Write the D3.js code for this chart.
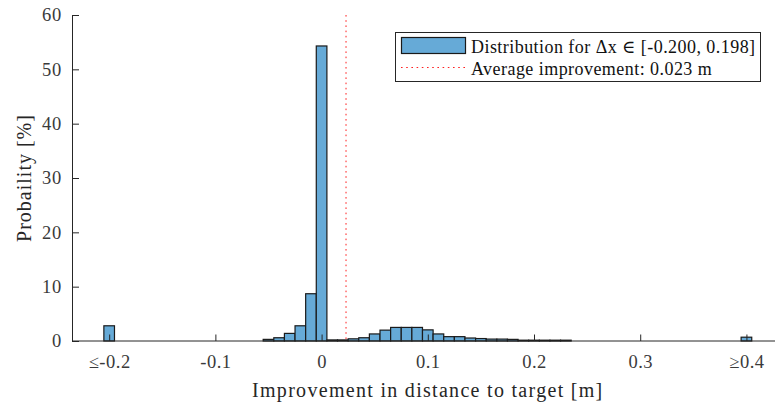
<!DOCTYPE html>
<html>
<head>
<meta charset="utf-8">
<script src="https://cdn.jsdelivr.net/npm/d3@7"></script>
<style>
  html, body { margin: 0; padding: 0; background: #fff; }
  svg text { font-family: "Liberation Serif", "Times New Roman", Times, "DejaVu Serif", serif !important; }
</style>
</head>
<body>
<svg id="chart" width="775" height="411"></svg>
<script>
// Histogram bins (centre of each 0.01 m bin) and their probability in percent
const binCenters = [-0.20, -0.05, -0.04, -0.03, -0.02, -0.01, 0.00, 0.01, 0.02, 0.03,
                    0.04, 0.05, 0.06, 0.07, 0.08, 0.09, 0.10, 0.11, 0.12, 0.13,
                    0.14, 0.15, 0.16, 0.17, 0.18, 0.19, 0.20, 0.21, 0.22, 0.23, 0.40];
const probabilities = [2.8, 0.3, 0.6, 1.4, 2.8, 8.7, 54.3, 0.2, 0.2, 0.4,
                       0.6, 1.3, 2.0, 2.5, 2.5, 2.5, 2.05, 1.3, 0.8, 0.8,
                       0.55, 0.45, 0.35, 0.35, 0.3, 0.15, 0.15, 0.15, 0.15, 0.15, 0.7];
const binWidth = 0.01;
const averageImprovement = 0.023;

const xTickValues = [-0.2, -0.1, 0, 0.1, 0.2, 0.3, 0.4];
const xTickLabels = ["\u2264-0.2", "-0.1", "0", "0.1", "0.2", "0.3", "\u22650.4"];
const yTickValues = [0, 10, 20, 30, 40, 50, 60];

const legendLabels = ["Distribution for \u0394x \u2208 [-0.200, 0.198]",
                      "Average improvement: 0.023 m"];

const svg = d3.select("#chart");
const axisColor = "#262626";
const barFill = "#66aad7";

const x = d3.scaleLinear().domain([-0.235, 0.435]).range([72, 783.6]);
const y = d3.scaleLinear().domain([0, 60]).range([341, 15]);

const bins = binCenters.map((c, i) => ({ c, p: probabilities[i] }));

// bars
svg.append("g")
  .selectAll("rect")
  .data(bins)
  .join("rect")
  .attr("x", d => x(d.c - binWidth / 2))
  .attr("width", d => x(d.c + binWidth / 2) - x(d.c - binWidth / 2))
  .attr("y", d => y(d.p))
  .attr("height", d => y(0) - y(d.p))
  .attr("fill", barFill)
  .attr("stroke", "#1a1a1a")
  .attr("stroke-width", 1.2);

// mean line
svg.append("line")
  .attr("x1", x(averageImprovement)).attr("x2", x(averageImprovement))
  .attr("y1", y(60)).attr("y2", y(0))
  .attr("stroke", "#ff2020")
  .attr("stroke-width", 1)
  .attr("stroke-dasharray", "1.6,3.6");

// x axis with inward ticks
const xAxis = d3.axisBottom(x)
  .tickValues(xTickValues)
  .tickFormat((d, i) => xTickLabels[i])
  .tickSizeInner(-6.5)
  .tickSizeOuter(0)
  .tickPadding(14);
const gx = svg.append("g").attr("transform", `translate(0,${y(0)})`).call(xAxis);
gx.attr("font-family", null);
gx.select(".domain").attr("stroke", axisColor).attr("d", `M${x.range()[0]},0H${x.range()[1]}`);
gx.selectAll(".tick line").attr("stroke", axisColor);
gx.selectAll(".tick text")
  .attr("fill", "#3a3a3a")
  .attr("font-size", 18.5)
  .attr("letter-spacing", 0.5);

// y axis with inward ticks
const yAxis = d3.axisLeft(y)
  .tickValues(yTickValues)
  .tickSizeInner(-7)
  .tickSizeOuter(0)
  .tickPadding(10);
const gy = svg.append("g").attr("transform", `translate(${x.range()[0]},0)`).call(yAxis);
gy.attr("font-family", null);
gy.select(".domain").attr("stroke", axisColor);
gy.selectAll(".tick line").attr("stroke", axisColor);
gy.selectAll(".tick text")
  .attr("fill", "#3a3a3a")
  .attr("font-size", 18.5)
  .attr("letter-spacing", 0.8);

// axis titles
svg.append("text")
  .attr("x", (x.range()[0] + x.range()[1]) / 2)
  .attr("y", 397)
  .attr("text-anchor", "middle")
  .attr("fill", "#262626")
  .attr("font-size", 20)
  .attr("letter-spacing", 1.3)
  .text("Improvement in distance to target [m]");

svg.append("text")
  .attr("transform", `translate(31,${(y(0) + y(60)) / 2}) rotate(-90)`)
  .attr("text-anchor", "middle")
  .attr("fill", "#262626")
  .attr("font-size", 20)
  .attr("letter-spacing", 1)
  .text("Probaility [%]");

// legend
const lg = svg.append("g");
lg.append("rect")
  .attr("x", 395.5).attr("y", 32.5)
  .attr("width", 365).attr("height", 49)
  .attr("fill", "#fff")
  .attr("stroke", axisColor)
  .attr("stroke-width", 1);
lg.append("rect")
  .attr("x", 401.5).attr("y", 37.5)
  .attr("width", 64).attr("height", 16)
  .attr("fill", barFill)
  .attr("stroke", "#1a1a1a")
  .attr("stroke-width", 1.2);
lg.append("line")
  .attr("x1", 401).attr("x2", 465)
  .attr("y1", 67.5).attr("y2", 67.5)
  .attr("stroke", "#ff2020")
  .attr("stroke-width", 1)
  .attr("stroke-dasharray", "1.6,3.6");
lg.selectAll("text.legend")
  .data(legendLabels)
  .join("text")
  .attr("class", "legend")
  .attr("x", 471)
  .attr("y", (d, i) => 52.5 + i * 22.5)
  .attr("fill", "#111")
  .attr("font-size", 18)
  .attr("letter-spacing", 0.45)
  .text(d => d);
</script>
</body>
</html>
